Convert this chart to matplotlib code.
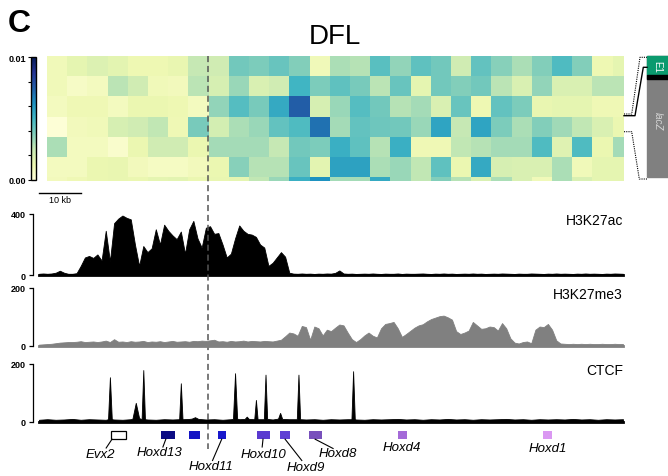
import matplotlib
matplotlib.use("Agg")
import matplotlib.pyplot as plt
import matplotlib.transforms as mtransforms
from matplotlib.lines import Line2D
from matplotlib.patches import Rectangle
import numpy as np

plt.rcParams['font.family'] = ['Liberation Sans', 'DejaVu Sans']

# ---------------- data ----------------
# 4C-like contact heatmap, values as fraction of the 0.00-0.01 colour scale
hic_rel = [
    [.10, .15, .18, .16, .12, .12, .14, .25, .22, .40, .38, .42, .37, .10, .30, .28, .45, .34, .44, .40, .22, .43, .36, .30, .37, .47, .37, .12, .15],
    [.10, .06, .08, .27, .22, .10, .09, .27, .20, .33, .19, .22, .50, .38, .44, .39, .27, .42, .15, .40, .37, .40, .27, .19, .34, .19, .19, .27, .27],
    [.08, .11, .11, .08, .13, .13, .12, .08, .34, .46, .39, .54, .75, .20, .33, .46, .40, .28, .31, .19, .42, .12, .43, .38, .14, .15, .15, .11, .11],
    [.01, .09, .10, .20, .22, .26, .11, .39, .21, .30, .33, .43, .47, .70, .31, .43, .41, .40, .33, .56, .25, .56, .38, .30, .37, .32, .26, .19, .13],
    [.30, .08, .08, .04, .13, .22, .22, .13, .31, .31, .31, .25, .40, .38, .52, .44, .28, .52, .11, .11, .26, .28, .31, .31, .47, .17, .47, .13, .31],
    [.08, .08, .13, .14, .09, .07, .07, .09, .13, .36, .28, .28, .42, .16, .57, .57, .30, .33, .26, .44, .13, .54, .20, .19, .19, .30, .10, .15, .15],
    [.09, .11, .13, .14, .13, .15, .16, .13, .14, .15, .26, .33, .52, .62, .31, .31, .54, .33, .26, .37, .28, .19, .30, .19, .10, .30, .19, .15, .15],
]
hic_max = 0.01

# ChIP tracks, 1 kb bins (kb 0 .. 140)
bins_kb = np.arange(141)
h3k27ac = [8, 10, 8, 10, 15, 28, 15, 8, 8, 12,
           60, 115, 125, 112, 135, 95, 290, 90, 340, 370,
           390, 375, 365, 200, 60, 190, 150, 175, 300, 200,
           330, 290, 260, 235, 285, 140, 300, 355, 240, 180,
           310, 320, 270, 275, 200, 115, 140, 240, 325, 290,
           270, 265, 250, 200, 180, 60, 80, 115, 150, 120,
           15, 9, 8, 10, 8, 9, 7, 9, 8, 10,
           9, 14, 30, 10, 8, 9, 7, 8, 9, 8,
           10, 8, 7, 9, 8, 8, 10, 7, 9, 8,
           8, 9, 10, 8, 7, 9, 8, 10, 8, 9,
           7, 8, 9, 8, 10, 8, 9, 7, 8, 9,
           8, 10, 9, 8, 7, 9, 8, 8, 10, 9,
           8, 7, 9, 8, 10, 8, 9, 8, 7, 9,
           8, 10, 8, 9, 8, 7, 9, 8, 10, 9, 8]
h3k27me3 = [3, 4, 5, 6, 8, 10, 11, 12, 12, 13,
            15, 12, 13, 14, 12, 14, 17, 12, 22, 13,
            14, 12, 15, 13, 14, 16, 12, 14, 13, 15,
            12, 14, 16, 13, 14, 15, 13, 16, 15, 17,
            16, 18, 20, 14, 15, 13, 16, 14, 15, 17,
            14, 16, 15, 14, 16, 15, 14, 17, 20, 32,
            45, 42, 34, 68, 64, 20, 66, 60, 35, 55,
            50, 62, 73, 70, 45, 22, 12, 22, 35, 45,
            34, 28, 60, 75, 78, 82, 60, 30, 40, 51,
            62, 70, 74, 84, 92, 97, 102, 104, 98, 90,
            50, 40, 45, 52, 82, 70, 58, 60, 66, 64,
            52, 78, 60, 25, 10, 7, 12, 14, 8, 55,
            66, 64, 75, 55, 18, 7, 6, 5, 6, 5,
            6, 5, 6, 5, 5, 6, 5, 5, 6, 5, 5]
ctcf_points = [
    (0, 6), (2, 8), (4, 6), (6, 7), (8, 9), (10, 6), (12, 8), (14, 7), (16, 6),
    (16.55, 8), (17.0, 154), (17.45, 8), (18, 7), (20, 6), (22, 8),
    (22.4, 10), (23.2, 65), (24.0, 12), (24.6, 8), (25.0, 179), (25.4, 8),
    (26, 7), (28, 6), (30, 8), (32, 7), (33.6, 8), (34.0, 133), (34.4, 8),
    (36, 9), (36.6, 10), (37.4, 15), (38.2, 9), (40, 7), (42, 8), (44, 6),
    (46, 8), (46.5, 9), (47.0, 168), (47.5, 10), (48, 8), (49.3, 9), (49.8, 17),
    (50.3, 9), (51.6, 8), (52.0, 75), (52.4, 8), (53.9, 8), (54.3, 163), (54.7, 9),
    (56, 7), (57.3, 10), (57.8, 30), (58.3, 9), (60, 8), (61.8, 8), (62.2, 163),
    (62.6, 8), (64, 7), (66, 8), (68, 6), (70, 8), (72, 7), (74, 8),
    (74.9, 8), (75.3, 175), (75.7, 8), (76, 7), (78, 6), (80, 8), (82, 7),
    (84, 8), (86, 9), (88, 7), (90, 8), (92, 6), (94, 8), (96, 7), (98, 9),
    (100, 7), (102, 8), (104, 6), (106, 8), (108, 7), (110, 8), (112, 9),
    (114, 7), (116, 8), (118, 6), (120, 8), (122, 7), (124, 8), (126, 7),
    (128, 9), (130, 7), (132, 8), (134, 6), (136, 8), (138, 7), (140, 8),
]
ctcf_pos, ctcf_val = zip(*ctcf_points)

# genes (kb)
genes = ['Evx2', 'Hoxd13', 'Hoxd12', 'Hoxd11', 'Hoxd10', 'Hoxd9', 'Hoxd8', 'Hoxd4', 'Hoxd1']
gene_start = [17.2, 29.2, 36.0, 43.0, 52.3, 57.8, 64.8, 86.1, 120.9]
gene_end = [20.9, 32.6, 38.6, 44.8, 55.4, 60.2, 67.8, 88.2, 122.9]
gene_colors = ['white', '#0c0c84', '#1414c4', '#1818cc', '#5a3ad0', '#6040d4',
               '#7850bc', '#a46ad8', '#da98f2']
viewpoint_kb = 40.6

# ---------------- layout ----------------
W, H = 668, 477
fig = plt.figure(figsize=(W / 100, H / 100), dpi=100)


def box(x0, y0, x1, y1):
    return [x0 / W, 1 - y1 / H, (x1 - x0) / W, (y1 - y0) / H]


def fx(px):
    return px / W


def fy(py):
    return 1 - py / H


ax_hm = fig.add_axes(box(47, 57.3, 624, 181.7))
cax = fig.add_axes(box(31, 58, 36, 181))
ax_ac = fig.add_axes(box(39, 215, 623, 276))
ax_me = fig.add_axes(box(39, 289, 623, 346.5))
ax_ct = fig.add_axes(box(39, 365, 623, 422.5))
ax_gn = fig.add_axes(box(39, 426, 623, 476))

# heatmap
hic = np.array(hic_rel) * hic_max
im = ax_hm.imshow(hic, cmap='YlGnBu', vmin=0, vmax=hic_max, aspect='auto',
                  interpolation='nearest')
ax_hm.set_xlim(-0.5, 28.06)
ax_hm.set_ylim(5.69, -0.5)
ax_hm.axis('off')

cb = fig.colorbar(im, cax=cax)
cb.outline.set_linewidth(1)
cax.yaxis.set_ticks_position('left')
cax.set_yticks([0, 0.01])
cax.set_yticklabels(['0.00', '0.01'], fontsize=6.5, fontweight='bold')
cax.set_yticks([0.002, 0.004, 0.006, 0.008], minor=True)
cax.tick_params(which='both', length=2.5, width=0.8, pad=1)

# tracks
tracks = [
    (ax_ac, h3k27ac, 400, 'black', 'H3K27ac'),
    (ax_me, h3k27me3, 200, '#808080', 'H3K27me3'),
]
for ax, vals, ymax, col, lab in tracks:
    ax.fill_between(bins_kb, 0, vals, color=col, lw=0.6, edgecolor=col)
ax_ct.fill_between(ctcf_pos, 0, ctcf_val, color='black', lw=0.6, edgecolor='black')

for ax, ymax, col, lab in [(ax_ac, 400, 'black', 'H3K27ac'),
                            (ax_me, 200, '#808080', 'H3K27me3'),
                            (ax_ct, 200, 'black', 'CTCF')]:
    ax.set_xlim(0, 140)
    ax.set_ylim(0, ymax)
    ax.axhline(0, color=col, lw=2, clip_on=False)
    for s in ['top', 'right', 'bottom']:
        ax.spines[s].set_visible(False)
    ax.spines['left'].set_position(('outward', 4.5))
    ax.spines['left'].set_linewidth(0.9)
    ax.set_xticks([])
    ax.set_yticks([0, ymax])
    ax.set_yticklabels(['0', str(ymax)], fontsize=6.5, fontweight='bold')
    ax.tick_params(axis='y', length=3, width=0.9, pad=2)
    ax.patch.set_visible(False)
    ax.text(1.0, 0.9, lab, transform=ax.transAxes, ha='right', va='center',
            fontsize=10)

# genes
ax_gn.set_xlim(0, 140)
ax_gn.set_ylim(476, 426)
ax_gn.axis('off')
for g, s, e, c in zip(genes, gene_start, gene_end, gene_colors):
    ax_gn.add_patch(Rectangle((s, 431.7), e - s, 8.5, facecolor=c,
                              edgecolor='black' if c == 'white' else 'none', lw=0.9))

label_pos = {'Evx2': (14.6, 455), 'Hoxd13': (28.8, 453), 'Hoxd11': (41.2, 467),
             'Hoxd10': (53.8, 455.5), 'Hoxd9': (63.9, 468), 'Hoxd8': (71.7, 454),
             'Hoxd4': (86.9, 448), 'Hoxd1': (122.0, 449)}
leaders = {'Evx2': ((17.5, 440.2), (16.1, 449)), 'Hoxd13': ((30.4, 440.2), (29.7, 448)),
           'Hoxd11': ((43.8, 440.2), (41.6, 461.5)), 'Hoxd10': ((53.7, 440.2), (53.5, 448)),
           'Hoxd9': ((59.0, 440.2), (63.0, 461.5)), 'Hoxd8': ((66.2, 440.2), (70.5, 449.5))}
for g, (x, y) in label_pos.items():
    ax_gn.text(x, y, g, ha='center', va='center', fontsize=9.5, fontstyle='italic')
for g, (p0, p1) in leaders.items():
    ax_gn.plot([p0[0], p1[0]], [p0[1], p1[1]], color='black', lw=0.8)

# viewpoint dashed line and scale bar
blend = mtransforms.blended_transform_factory(ax_ac.transData, fig.transFigure)
ax_ac.add_artist(Line2D([viewpoint_kb, viewpoint_kb], [fy(57), fy(450)],
                        transform=blend, color='#555555', lw=1.1,
                        dashes=(4, 2.5), clip_on=False))
ax_ac.add_artist(Line2D([0, 10], [fy(194.3), fy(194.3)], transform=blend,
                        color='black', lw=1, clip_on=False))
ax_ac.text(5, fy(200.5), '10 kb', transform=blend, ha='center', va='center',
           fontsize=6.5)

# construct schematic on the right
fig.patches.append(Rectangle((fx(647), fy(178)), fx(668) - fx(647), fy(57) - fy(178),
                             transform=fig.transFigure, color='#808080'))
fig.patches.append(Rectangle((fx(647), fy(76)), fx(668) - fx(647), fy(57) - fy(76),
                             transform=fig.transFigure, color='#0b9a6e'))
fig.patches.append(Rectangle((fx(647), fy(79.5)), fx(668) - fx(647), fy(76) - fy(79.5),
                             transform=fig.transFigure, color='black'))
fig.text(fx(657.5), fy(66.5), 'E1', rotation=-90, color='white', fontsize=7,
         ha='center', va='center')
fig.text(fx(657.5), fy(121), 'lacZ', rotation=-90, color='#d4d4d4', fontsize=7,
         fontstyle='italic', ha='center', va='center')
fig.add_artist(Line2D([fx(624), fx(635), fx(643.3), fx(647)],
                      [fy(116.7), fy(116.7), fy(68.3), fy(68.3)],
                      color='black', lw=1))
fig.add_artist(Line2D([fx(624), fx(631.7), fx(640), fx(647)],
                      [fy(115), fy(115), fy(58.3), fy(58.3)],
                      color='black', lw=0.8, ls=(0, (1, 1))))
fig.add_artist(Line2D([fx(624), fx(631.7), fx(639.3), fx(647)],
                      [fy(132.7), fy(132.7), fy(180), fy(180)],
                      color='black', lw=0.8, ls=(0, (1, 1))))

# titles
fig.text(fx(335), fy(37), 'DFL', ha='center', va='center', fontsize=20)
fig.text(fx(8), fy(24), 'C', ha='left', va='center', fontsize=23, fontweight='bold')

fig.savefig('out.png', dpi=100)
